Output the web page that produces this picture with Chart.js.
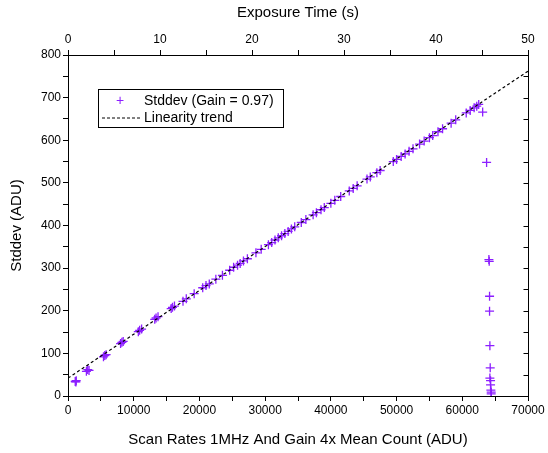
<!DOCTYPE html>
<html>
<head>
<meta charset="utf-8">
<script src="https://cdn.jsdelivr.net/npm/chart.js@4"></script>
<style>
  body { margin: 0; background: #fff; }
  #wrap { position: relative; width: 548px; height: 453px; }
  #legend {
    position: absolute; left: 98px; top: 89px; width: 184px; height: 37px;
    border: 1px solid #000; background: #fff;
    font: 14px 'Liberation Sans', Arial, sans-serif; color: #000;
  }
  #legend .row { position: absolute; left: 0; height: 18px; line-height: 18px; white-space: nowrap; }
  #legend .sym { position: absolute; left: 0; width: 42px; text-align: center; }
  #legend .txt { position: absolute; left: 45px; }
</style>
</head>
<body>
<div id="wrap">
  <canvas id="chart" width="548" height="453"></canvas>
  <div id="legend">
    <div class="row" style="top:1px"><span class="sym" style="color:#8c1eff">+</span><span class="txt">Stddev (Gain = 0.97)</span></div>
    <div class="row" style="top:18px"><span class="sym"><svg width="40" height="18"><line x1="2" y1="10" x2="40" y2="10" stroke="#000" stroke-width="1" stroke-dasharray="3,2"/></svg></span><span class="txt">Linearity trend</span></div>
  </div>
</div>
<script>
// mean count (ADU)
const meanCount = [
  1100, 1250, 1200, 2800, 3000, 3200, 5400, 5600, 5800, 8000, 8200, 8400,
  10700, 10900, 11200, 13200, 13400, 13700, 15700, 15900, 16200,
  17500, 18000, 19200, 20500, 21000, 21500, 22500, 23500, 24600, 25200, 25800,
  26200, 26700, 27300, 28600, 29400, 30500, 31000, 31500, 32000, 32500, 33000, 33500,
  34000, 34500, 35500, 36200, 37300, 37800, 38500, 39000, 40000, 40600, 41500,
  42800, 43400, 44000, 45500, 46000, 47000, 47500, 49500, 50000, 50700, 51300, 51900,
  52500, 53500, 54200, 55000, 55500, 56300, 57000, 58300, 59000, 60600, 61200, 61800,
  62200, 62500,
  63100, 63700, 64050, 64100, 64150, 64150, 64200, 64250, 64200, 64300, 64300, 64350, 64400, 64400
];
// stddev (ADU)
const stddev = [
  34, 36, 33, 58, 62, 60, 92, 95, 97, 123, 126, 128,
  151, 154, 157, 180, 183, 186, 205, 208, 211,
  222, 228, 240, 254, 259, 263, 274, 283, 295, 302, 307,
  311, 317, 322, 336, 344, 355, 360, 366, 371, 376, 381, 386,
  392, 397, 407, 414, 425, 430, 437, 442, 452, 459, 468,
  481, 487, 493, 509, 514, 524, 529, 550, 555, 562, 568, 574,
  580, 591, 598, 606, 611, 620, 627, 640, 648, 664, 670, 676,
  680, 684,
  666, 548, 320, 316, 234, 199, 118, 66, 42, 36, 26, 14, 9, 5
];
const trendX = [0, 70000];
const trendY = [42, 762];

const font = "'Liberation Sans', Arial, sans-serif";
const purple = '#8c1eff';

const scatterData = meanCount.map((x, i) => ({ x: x, y: stddev[i] }));
const trendData = trendX.map((x, i) => ({ x: x, y: trendY[i] }));

// inward ticks + frame line on the right side
const rightTicks = {
  id: 'rightTicks',
  afterDraw(chart) {
    const { ctx, chartArea, scales } = chart;
    ctx.save();
    ctx.strokeStyle = '#000';
    ctx.lineWidth = 1;
    ctx.beginPath();
    const xr = Math.round(chartArea.right) + 0.5;
    ctx.moveTo(xr, chartArea.top);
    ctx.lineTo(xr, chartArea.bottom);
    for (let v = 0; v <= 800; v += 50) {
      const y = Math.round(scales.y.getPixelForValue(v)) + 0.5;
      ctx.moveTo(xr, y);
      ctx.lineTo(xr - 5, y);
    }
    ctx.stroke();
    ctx.restore();
  }
};

new Chart(document.getElementById('chart'), {
  type: 'scatter',
  data: {
    datasets: [
      {
        label: 'Stddev (Gain = 0.97)',
        data: scatterData,
        pointStyle: 'cross',
        pointRadius: 4.5,
        pointBorderWidth: 1.3,
        borderColor: purple,
        backgroundColor: purple,
        order: 2
      },
      {
        label: 'Linearity trend',
        type: 'line',
        data: trendData,
        borderColor: '#000',
        borderWidth: 1.2,
        borderDash: [3, 2.5],
        pointRadius: 0,
        fill: false,
        order: 1
      }
    ]
  },
  options: {
    responsive: false,
    animation: false,
    layout: { padding: { left: 0, right: 20, top: 0, bottom: 0 } },
    plugins: { legend: { display: false }, tooltip: { enabled: false } },
    scales: {
      x: {
        type: 'linear', position: 'bottom', min: 0, max: 70000,
        afterFit: s => { s.height = 57; },
        grid: { drawOnChartArea: false, tickLength: 5, color: '#000' },
        border: { display: true, color: '#000', width: 1 },
        ticks: {
          stepSize: 5000, maxRotation: 0, autoSkip: false, padding: 2,
          color: '#000', font: { family: font, size: 12 },
          callback: v => (v % 10000 === 0 ? v : '')
        },
        title: {
          display: true, text: 'Scan Rates 1MHz And Gain 4x Mean Count (ADU)',
          color: '#000', font: { family: font, size: 15 }, padding: { top: 6 }
        }
      },
      x2: {
        type: 'linear', position: 'top', min: 0, max: 50,
        afterFit: s => { s.height = 55; },
        grid: { drawOnChartArea: false, tickLength: 5, color: '#000' },
        border: { display: true, color: '#000', width: 1 },
        ticks: {
          stepSize: 5, maxRotation: 0, autoSkip: false, padding: 3,
          color: '#000', font: { family: font, size: 12 },
          callback: v => (v % 10 === 0 ? v : '')
        },
        title: {
          display: true, text: 'Exposure Time (s)',
          color: '#000', font: { family: font, size: 15 }, padding: { top: 4, bottom: 2 }
        }
      },
      y: {
        type: 'linear', position: 'left', min: 0, max: 800,
        afterFit: s => { s.width = 68; },
        grid: { drawOnChartArea: false, tickLength: 5, color: '#000' },
        border: { display: true, color: '#000', width: 1 },
        ticks: {
          stepSize: 50, autoSkip: false, padding: 2,
          color: '#000', font: { family: font, size: 12 },
          callback: v => (v % 100 === 0 ? v : '')
        },
        title: {
          display: true, text: 'Stddev (ADU)',
          color: '#000', font: { family: font, size: 15 }, padding: { top: 8, bottom: 4 }
        }
      }
    }
  },
  plugins: [rightTicks]
});
</script>
</body>
</html>
